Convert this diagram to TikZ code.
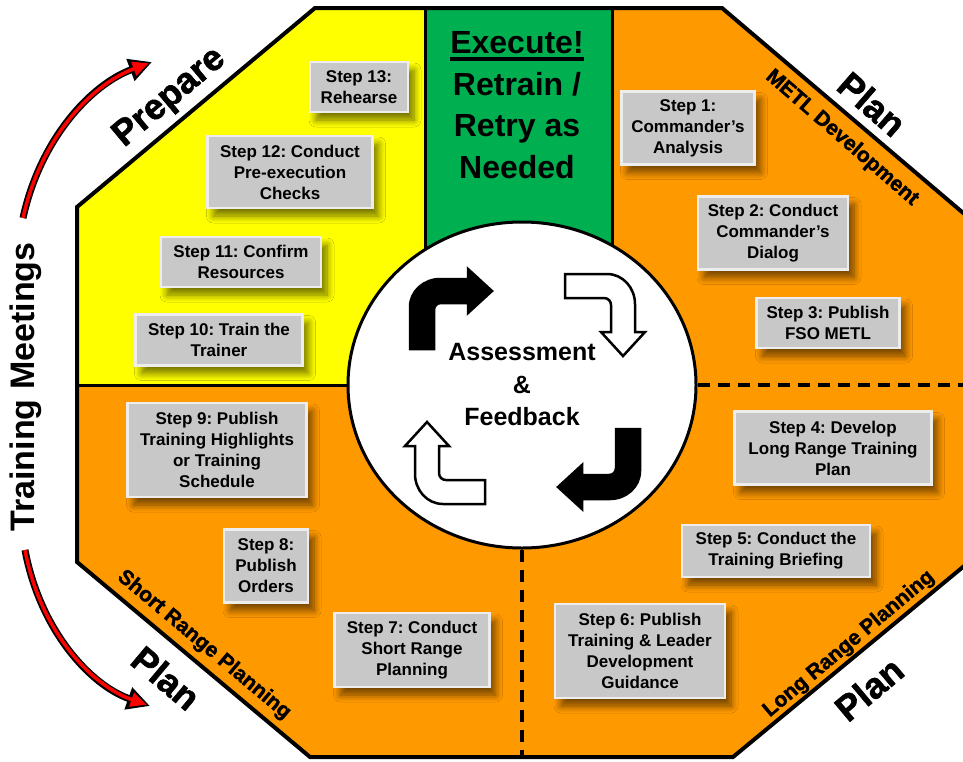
\documentclass[tikz,border=0pt]{standalone}
\usepackage{fontspec}
\setmainfont{Liberation Sans}
\newfontfamily\heavyfont[FakeBold=1.6]{Liberation Sans Bold}
\usetikzlibrary{shapes.geometric,shadows.blur,arrows.meta}

\definecolor{planorange}{HTML}{FF9900}
\definecolor{prepyellow}{HTML}{FFFF00}
\definecolor{execgreen}{HTML}{00B050}
\definecolor{boxgray}{HTML}{C8C8C8}
\definecolor{boxedge}{HTML}{EDEDED}
\definecolor{meetred}{HTML}{FF0000}

\newcommand\stepfont{\fontsize{17}{21}\selectfont\bfseries\frenchspacing}
\newcommand\execrule[1]{\setbox0\hbox{#1}\rlap{\rule[-7pt]{\wd0}{3.5pt}}\box0}

\tikzset{
  stepbox/.style={draw=boxedge, line width=2.5pt, fill=boxgray, align=center,
    inner sep=2pt, font=\stepfont,
    blur shadow={shadow xshift=6pt, shadow yshift=-8pt, shadow blur radius=7pt,
      shadow blur steps=8, shadow opacity=55}},
  phase/.style={font=\heavyfont\fontsize{36}{40}\selectfont},
  subphase/.style={font=\heavyfont\fontsize{21}{24}\selectfont},
  meetarrow/.style={line width=7pt, black, -{Triangle[length=23pt,width=22pt]}},
  meetarrowin/.style={line width=3.5pt, meetred, shorten >=3.5pt, -{Triangle[length=16pt,width=14pt]}},
  divider/.style={line width=4pt, dash pattern=on 12pt off 8pt},
}

\begin{document}
\begin{tikzpicture}[x=1pt,y=-1pt]
    \useasboundingbox (0,0) rectangle (963,761);

    % Octagon and its sectors
    \fill[planorange] (315,8) -- (722,8) -- (975,223) -- (975,557) -- (733,757)
        -- (310,757) -- (77,562) -- (77,207) -- cycle;
    \fill[prepyellow] (315,8) -- (425,8) -- (425,385) -- (77,385) -- (77,207) -- cycle;
    \fill[execgreen] (425,8) rectangle (612,385);
    \draw[line width=3pt] (425,8) -- (425,385);
    \draw[line width=3pt] (612,8) -- (612,385);

    % Centre
    \node[ellipse, draw, line width=3pt, fill=white, minimum width=348pt,
        minimum height=326pt, align=center,
        font=\bfseries\fontsize{25}{32.5}\selectfont] (hub) at (522,385)
        {Assessment\\\&\\Feedback};
    \draw[line width=3pt] (77,385) -- (hub.west);
    \draw[divider] (hub.east) -- (975,385);
    \draw[divider] (hub.south) -- (hub.south |- 0,757);

    % Bent arrows round the centre
    \foreach \ang/\col in {0/black, -90/white, 180/black, 90/white}
        \filldraw[fill=\col, draw=black, line width=2.5pt, line join=miter,
            shift={(525,389)}, rotate=\ang]
            (-115,-40) -- (-115,-82) .. controls (-115,-98) and (-101,-110) .. (-85,-110)
            -- (-57,-110) -- (-57,-120) -- (-33,-98) -- (-57,-76) -- (-57,-86)
            -- (-84,-86) .. controls (-88,-86) and (-91,-83) .. (-91,-79)
            -- (-91,-40) -- cycle;

    % Octagon border
    \draw[line width=4pt, line join=miter] (315,8) -- (722,8) -- (975,223) -- (975,557)
        -- (733,757) -- (310,757) -- (77,562) -- (77,207) -- cycle;

    % Execute
    \node[align=center, font=\bfseries\fontsize{32}{41.5}\selectfont] (exec) at (517,105)
        {\execrule{Execute!}\\Retrain /\\Retry as\\Needed};

    % Steps
    \node[stepbox, minimum width=133pt, minimum height=73pt] (s1) at (688,128) {Step 1:\\Commander’s\\Analysis};
    \node[stepbox, minimum width=150pt, minimum height=73pt] (s2) at (773,233) {Step 2: Conduct\\Commander’s\\Dialog};
    \node[stepbox, minimum width=143pt, minimum height=50pt] (s3) at (828,323) {Step 3: Publish\\FSO METL};
    \node[stepbox, minimum width=197pt, minimum height=73pt] (s4) at (833,448) {Step 4: Develop\\Long Range Training\\Plan};
    \node[stepbox, minimum width=188pt, minimum height=52pt] (s5) at (776,551) {Step 5: Conduct the\\Training Briefing};
    \node[stepbox, minimum width=170pt, minimum height=94pt] (s6) at (640,651) {Step 6: Publish\\Training \& Leader\\Development\\Guidance};
    \node[stepbox, minimum width=155pt, minimum height=74pt] (s7) at (412,650) {Step 7: Conduct\\Short Range\\Planning};
    \node[stepbox, minimum width=84pt, minimum height=73pt] (s8) at (266,566) {Step 8:\\Publish\\Orders};
    \node[stepbox, minimum width=179pt, minimum height=94pt] (s9) at (217,450) {Step 9: Publish\\Training Highlights\\or Training\\Schedule};
    \node[stepbox, minimum width=167pt, minimum height=51pt] (s10) at (219,340) {Step 10: Train the\\Trainer};
    \node[stepbox, minimum width=160pt, minimum height=50pt] (s11) at (241,262) {Step 11: Confirm\\Resources};
    \node[stepbox, minimum width=165pt, minimum height=72pt] (s12) at (290,172) {Step 12: Conduct\\Pre-execution\\Checks};
    \node[stepbox, minimum width=98pt, minimum height=50pt] (s13) at (359,87) {Step 13:\\Rehearse};

    % Phase labels
    \node[phase, rotate=40] (prep) at (170,98) {Prepare};
    \node[phase, rotate=-41] (planA) at (872,104) {Plan};
    \node[subphase, rotate=-41] (metl) at (842,138) {METL Development};
    \node[subphase, rotate=40] (lrp) at (849,644) {Long Range Planning};
    \node[phase, rotate=40] (planB) at (869,689) {Plan};
    \node[subphase, rotate=-40] (srp) at (204,645) {Short Range Planning};
    \node[phase, rotate=-40] (planC) at (166,678) {Plan};

    % Training meetings
    \node[font=\bfseries\fontsize{34}{40}\selectfont, rotate=90] (meet) at (26,387) {Training Meetings};
    \coordinate (m1a) at (23,218);
    \coordinate (m1b) at (152,62);
    \coordinate (m2a) at (25,550);
    \coordinate (m2b) at (150,706);
    \draw[meetarrow] (m1a) .. controls (40,140) and (90,85) .. (m1b);
    \draw[meetarrowin] (m1a) .. controls (40,140) and (90,85) .. (m1b);
    \draw[meetarrow] (m2a) .. controls (40,630) and (90,685) .. (m2b);
    \draw[meetarrowin] (m2a) .. controls (40,630) and (90,685) .. (m2b);
\end{tikzpicture}
\end{document}
